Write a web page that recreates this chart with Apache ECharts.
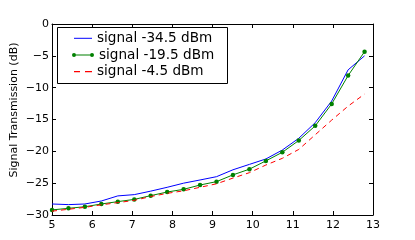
<!DOCTYPE html>
<html>
<head>
<meta charset="utf-8">
<script src="https://cdn.jsdelivr.net/npm/echarts@6/dist/echarts.min.js"></script>
<style>
html,body{margin:0;padding:0;background:#fff;}
#c{width:415px;height:240px;}
</style>
</head>
<body>
<div id="c"></div>
<script>
var freq = [5.00, 5.41, 5.82, 6.23, 6.64, 7.05, 7.46, 7.87, 8.28, 8.69, 9.10, 9.51, 9.92, 10.33, 10.74, 11.15, 11.56, 11.97, 12.38, 12.79];
var sigLow = [-28.27, -28.37, -28.27, -27.8, -27.0, -26.8, -26.25, -25.65, -25.0, -24.5, -23.98, -22.9, -22.05, -21.2, -19.8, -17.95, -15.5, -12.1, -7.2, -5.0];
var sigMid = [-29.2, -28.95, -28.7, -28.27, -27.9, -27.55, -26.96, -26.39, -25.97, -25.29, -24.76, -23.7, -22.8, -21.5, -20.15, -18.3, -16.0, -12.56, -8.1, -4.35];
var sigHigh = [-29.4, -29.1, -28.8, -28.4, -28.06, -27.7, -27.1, -26.6, -26.2, -25.65, -25.1, -24.2, -23.35, -22.15, -21.1, -19.7, -17.4, -15.1, -12.9, -11.0];
var names = ['signal -34.5 dBm', 'signal -19.5 dBm', 'signal -4.5 dBm'];
var xTicks = [5, 6, 7, 8, 9, 10, 11, 12, 13];
var yTicks = [-30, -25, -20, -15, -10, -5, 0];

function pairs(ys){ return freq.map(function(x,i){ return [x, ys[i]]; }); }
var FONT = 'DejaVu Sans';
function fmt(v){ return String(v).replace('-', '\u2212'); }

var chart = echarts.init(document.getElementById('c'), null, {renderer:'canvas'});
var tickCommon = {show:true, inside:true, length:4, lineStyle:{color:'#000', width:1}};
var lineCommon = {show:true, onZero:false, lineStyle:{color:'#000', width:1}};
var legendText = {fontFamily:FONT, fontSize:13.6, color:'#000', lineHeight:16};
chart.setOption({
  animation:false,
  backgroundColor:'#fff',
  grid:{left:52, right:42, top:24, bottom:25, containLabel:false},
  xAxis:[
    {type:'value', min:xTicks[0], max:xTicks[xTicks.length-1], interval:1, position:'bottom',
     axisLine:lineCommon, axisTick:tickCommon, splitLine:{show:false},
     axisLabel:{show:true, margin:5, fontFamily:FONT, fontSize:11, color:'#000', formatter:fmt}},
    {type:'value', min:xTicks[0], max:xTicks[xTicks.length-1], interval:1, position:'top',
     axisLine:lineCommon, axisTick:tickCommon, splitLine:{show:false}, axisLabel:{show:false}}
  ],
  yAxis:[
    {type:'value', min:yTicks[0], max:yTicks[yTicks.length-1], interval:5, position:'left',
     axisLine:lineCommon, axisTick:tickCommon, splitLine:{show:false},
     axisLabel:{show:true, margin:3, fontFamily:FONT, fontSize:11, color:'#000', formatter:fmt}},
    {type:'value', min:yTicks[0], max:yTicks[yTicks.length-1], interval:5, position:'right',
     axisLine:lineCommon, axisTick:tickCommon, splitLine:{show:false}, axisLabel:{show:false}}
  ],
  legend:[
    {data:[{name:names[0], icon:'path://M0,0 H18 V1 H0 Z'}], left:74, top:30.3, padding:0, z:20,
     itemWidth:18, itemHeight:16, textStyle:legendText, selectedMode:false},
    {data:[{name:names[1], icon:'path://M0,2 A2,2 0 1,1 4,2 A2,2 0 1,1 0,2 Z M2,1.5 H20 V2.5 H2 Z M18,2 A2,2 0 1,1 22,2 A2,2 0 1,1 18,2 Z'}], left:72, top:47, padding:0, z:20,
     itemWidth:22, itemHeight:16, textStyle:legendText, selectedMode:false},
    {data:[{name:names[2], icon:'path://M0,0 H6 V1.2 H0 Z M11,0 H18 V1.2 H11 Z'}], left:74, top:63.7, padding:0, z:20,
     itemWidth:18, itemHeight:16, textStyle:legendText, selectedMode:false}
  ],
  graphic:[
    {type:'rect', shape:{x:57.5, y:27.5, width:170, height:56}, style:{fill:'#fff', stroke:'#000', lineWidth:1}, z:10, silent:true},
    {type:'text', x:14, y:110, rotation:Math.PI/2, style:{text:'Signal Transmission (dB)', fontFamily:FONT, fontSize:11, fill:'#000', textAlign:'center', textVerticalAlign:'middle'}, silent:true}
  ],
  series:[
    {name:names[0], type:'line', data:pairs(sigLow), symbol:'none', color:'#0000ff',
     lineStyle:{color:'#0000ff', width:1}, z:2},
    {name:names[1], type:'line', data:pairs(sigMid), symbol:'circle', symbolSize:4.5, showSymbol:true, color:'#008000',
     itemStyle:{color:'#008000'}, lineStyle:{color:'#008000', width:1}, z:3},
    {name:names[2], type:'line', data:pairs(sigHigh), symbol:'none', color:'#ff0000',
     lineStyle:{color:'#ff0000', width:1, type:[5,4]}, z:4}
  ]
});
</script>
</body>
</html>
